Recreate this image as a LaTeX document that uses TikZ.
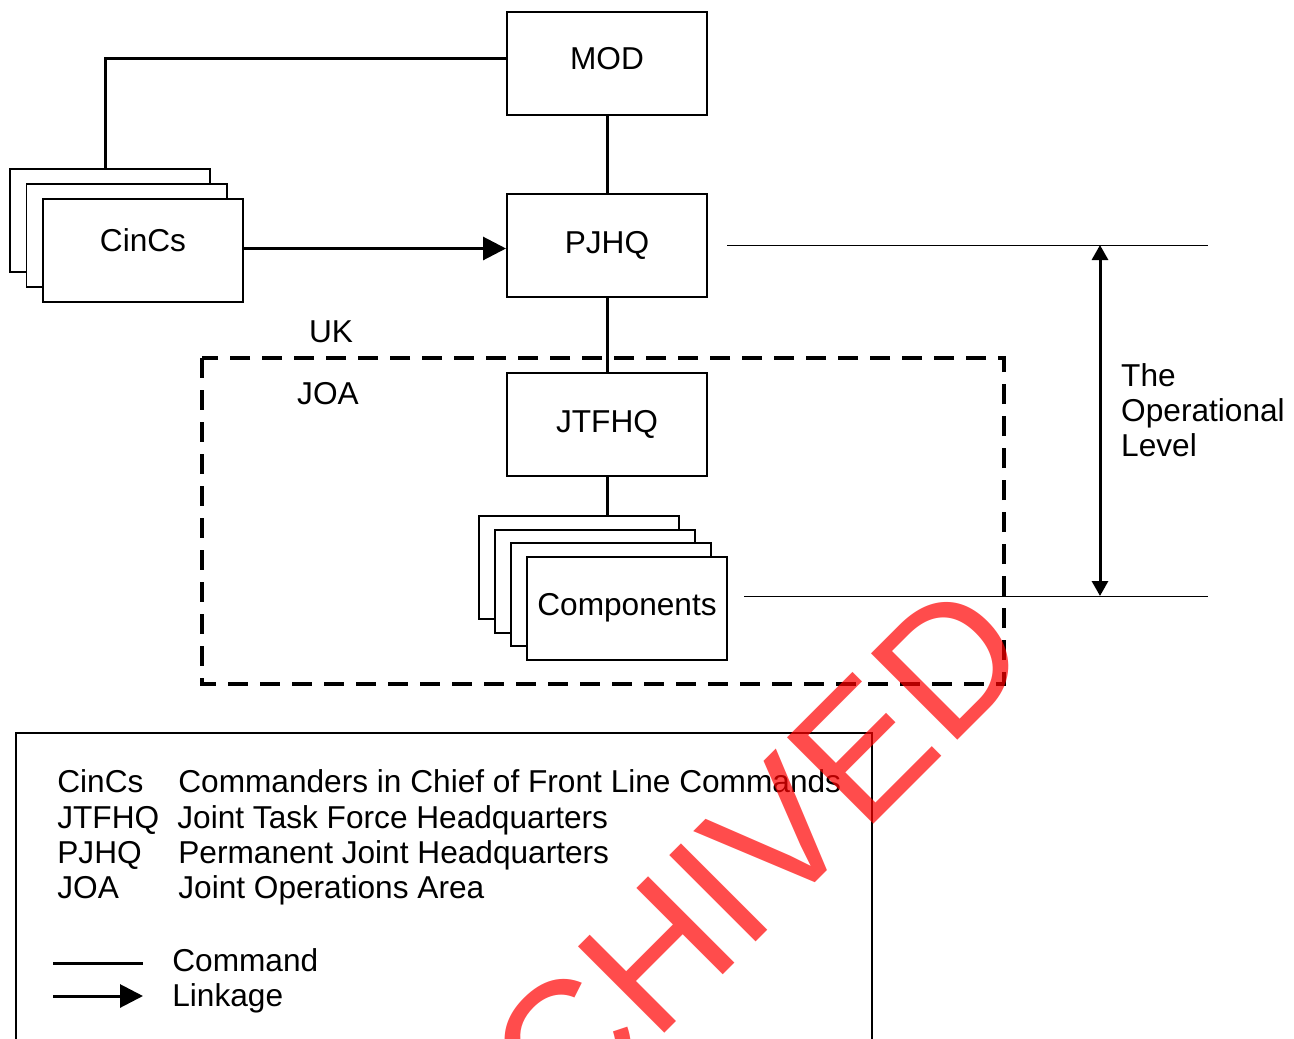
\documentclass[tikz,border=0pt]{standalone}
\usepackage{fontspec}
\setmainfont{Liberation Sans}
\usetikzlibrary{positioning, arrows.meta}

\begin{document}
\begin{tikzpicture}[font=\fontsize{18}{20}\selectfont,
  box/.style={draw, line width=0.04cm, fill=white, minimum width=4cm, minimum height=2.06cm, inner sep=0pt},
  cmd/.style={line width=0.06cm},
  link/.style={cmd, -{Triangle[length=0.46cm, width=0.46cm]}},
  joaline/.style={line width=0.08cm, dash pattern=on 0.4cm off 0.24cm},
  guide/.style={line width=0.02cm},
  span/.style={line width=0.06cm, {Triangle[length=0.3cm, width=0.32cm]}-{Triangle[length=0.3cm, width=0.32cm]}},
  legtext/.style={anchor=base west, inner sep=0pt},
  stamp/.style={text=red, text opacity=0.7, inner sep=0pt, font=\fontsize{101}{101}\selectfont}]
  \useasboundingbox (0,0) rectangle (25.88,-20.78);
  \clip (0,0) rectangle (25.88,-20.78);

  \draw[joaline] (4.04,-7.16) rectangle (20.08,-13.68);
  \node (uk) at (6.62,-6.64) {UK};
  \node (joa) at (6.56,-7.88) {JOA};

  \node[box] (mod) at (12.14,-1.27) {\raisebox{0.2cm}{MOD}};
  \node[box, below=1.54cm of mod] (pjhq) {PJHQ};
  \node[box, below=1.48cm of pjhq] (jtfhq) {\raisebox{0.1cm}{JTFHQ}};

  \node[box] (cinc1) at (2.2,-4.41) {};
  \node[box, xshift=0.33cm, yshift=-0.3cm] (cinc2) at (cinc1) {};
  \node[box, xshift=0.33cm, yshift=-0.3cm] (cinc) at (cinc2) {\raisebox{0.4cm}{CinCs}};

  \node[box] (comp1) at (11.58,-11.35) {};
  \node[box, xshift=0.32cm, yshift=-0.27cm] (comp2) at (comp1) {};
  \node[box, xshift=0.32cm, yshift=-0.27cm] (comp3) at (comp2) {};
  \node[box, xshift=0.32cm, yshift=-0.27cm] (comp) at (comp3) {\raisebox{0.16cm}{Components}};

  \draw[cmd] ([yshift=0.11cm]mod.west) -| ([xshift=-0.1cm]cinc1.north);
  \draw[cmd] (mod) -- (pjhq);
  \draw[cmd] (pjhq) -- (jtfhq);
  \draw[cmd] (jtfhq.south) -- (jtfhq.south |- comp1.north);
  \draw[link] ([yshift=-0.06cm]cinc.east |- pjhq) -- ([yshift=-0.06cm]pjhq.west);

  \coordinate (optop) at (24.16,-4.9);
  \coordinate (opbot) at (24.16,-11.92);
  \draw[guide] ([xshift=0.38cm]pjhq.east |- optop) -- (optop);
  \draw[guide] ([xshift=0.32cm]comp.east |- opbot) -- (opbot);
  \draw[span] ([xshift=-2.16cm]optop) -- ([xshift=-2.16cm]opbot);
  \node[anchor=west, align=left] (oplevel) at (22.3,-8.2) {The\\Operational\\Level};

  \draw[line width=0.04cm] (0.32,-21.5) |- (17.44,-14.66) -- (17.44,-21.5);
  \node[legtext] (abcinc) at (1.14,-15.85) {CinCs};
  \node[legtext] (defcinc) at (3.56,-15.85) {Commanders in Chief of Front Line Commands};
  \node[legtext] (abjtf) at (1.14,-16.56) {JTFHQ};
  \node[legtext] (defjtf) at (3.54,-16.56) {Joint Task Force Headquarters};
  \node[legtext] (abpjhq) at (1.14,-17.27) {PJHQ};
  \node[legtext] (defpjhq) at (3.56,-17.27) {Permanent Joint Headquarters};
  \node[legtext] (abjoa) at (1.14,-17.97) {JOA};
  \node[legtext] (defjoa) at (3.56,-17.97) {Joint Operations Area};

  \coordinate (cmdstart) at (1.06,-19.26);
  \coordinate (cmdend) at (2.86,-19.26);
  \coordinate (linkstart) at (1.06,-19.92);
  \coordinate (linkend) at (2.86,-19.92);
  \draw[cmd] (cmdstart) -- (cmdend);
  \draw[link] (linkstart) -- (linkend);
  \node[legtext] (cmdtext) at (3.44,-19.43) {Command};
  \node[legtext] (linktext) at (3.44,-20.12) {Linkage};

  \node[stamp, rotate=45, anchor=base east] (archived) at (20.76,-13.2) {ARCHIVED};
\end{tikzpicture}
\end{document}
